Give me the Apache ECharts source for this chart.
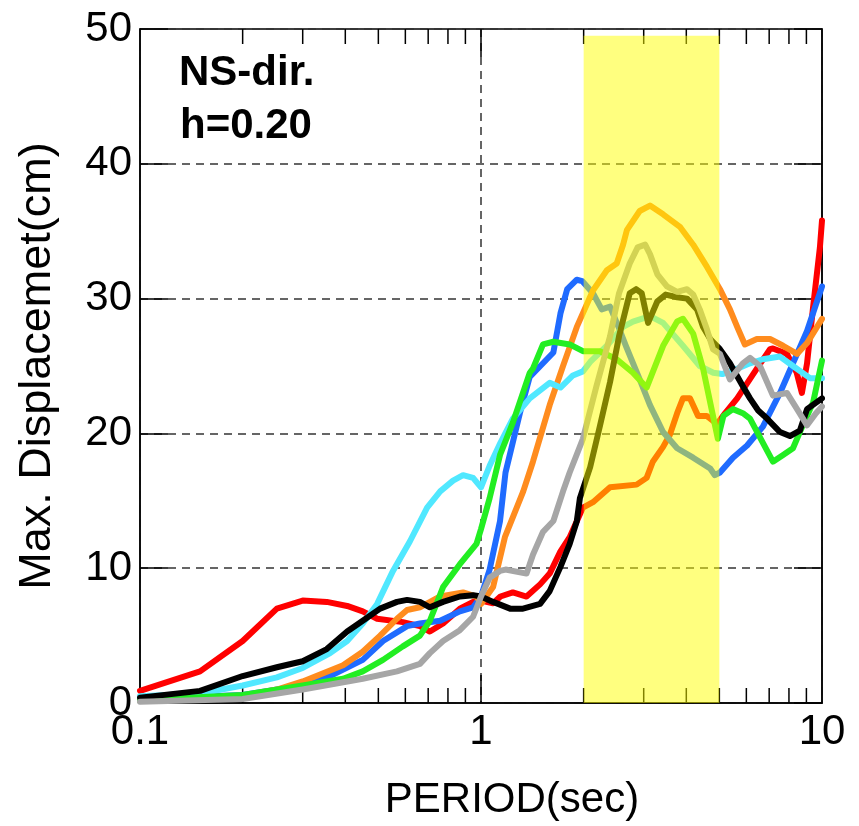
<!DOCTYPE html>
<html>
<head>
<meta charset="utf-8">
<script src="https://cdn.jsdelivr.net/npm/echarts@6/dist/echarts.min.js"></script>
<style>html,body{margin:0;padding:0;background:#fff;}#c{width:859px;height:826px;}</style>
</head>
<body>
<div id="c"></div>
<script>
// ---- data (period in sec, max displacement in cm) ----
const redT = [0.1,0.15,0.2,0.252,0.3,0.353,0.405,0.45,0.496,0.59,0.662,0.708,0.774,0.867,0.948,1.0,1.085,1.14,1.24,1.36,1.49,1.59,1.71,1.82,1.99,2.13,2.39,2.86,3.06,3.19,3.42,3.58,3.76,3.91,4.10,4.33,4.59,4.92,5.2,5.64,6.44,7.04,7.18,7.89,8.43,8.73,9.04,9.42,9.86,10];
const redV = [0.9,2.35,4.6,7.0,7.6,7.5,7.2,6.8,6.25,6.0,5.7,5.3,5.9,7.0,7.5,7.6,7.4,7.9,8.2,7.9,8.8,9.6,11.25,12.3,14.5,14.9,16.0,16.2,16.7,17.9,19.0,19.9,21.5,22.6,22.6,21.3,21.3,20.7,21.5,22.6,24.8,26.25,26.3,25.9,24.5,23.0,25.2,29.4,33.8,35.8];

const blueT = [0.1,0.2,0.3,0.361,0.45,0.516,0.607,0.662,0.759,0.867,0.948,1.0,1.06,1.137,1.18,1.30,1.39,1.56,1.63,1.71,1.79,1.91,1.98,2.13,2.26,2.39,2.53,2.66,2.75,2.92,3.13,3.42,3.76,4.19,4.70,4.85,5.02,5.48,6.03,6.71,7.53,8.22,9.04,10];
const blueV = [0.3,0.6,1.3,2.0,3.2,4.6,5.7,5.9,6.1,6.8,7.1,7.9,9.9,13.5,17.1,21.5,24.2,25.5,26.0,28.9,30.7,31.4,31.3,30.4,29.2,29.4,27.9,26.5,25.6,24.0,22.1,20.1,18.9,18.2,17.4,16.9,17.1,18.2,19.1,20.5,23.0,25.2,27.6,30.9];

const orangeT = [0.1,0.2,0.252,0.3,0.394,0.45,0.506,0.567,0.607,0.662,0.759,0.886,0.97,1.0,1.085,1.175,1.33,1.42,1.59,1.74,1.91,2.13,2.34,2.5,2.61,2.68,2.92,3.13,3.42,3.84,4.19,4.60,5.02,5.37,5.64,5.94,6.44,7.04,7.69,8.45,9.04,10];
const orangeV = [0.2,0.5,1.0,1.6,2.8,3.8,5.0,6.25,6.9,7.1,7.9,8.2,7.9,7.35,8.6,12.3,15.7,17.9,22.1,25.0,27.9,30.6,32.1,32.6,34.0,35.1,36.5,36.9,36.25,35.3,34.0,32.35,30.7,29.2,27.9,26.6,27.0,27.0,26.5,25.9,26.7,28.5];

const cyanT = [0.1,0.15,0.2,0.252,0.3,0.361,0.405,0.45,0.496,0.552,0.619,0.695,0.759,0.828,0.886,0.948,1.0,1.06,1.14,1.24,1.39,1.59,1.71,1.86,1.99,2.09,2.34,2.61,2.79,3.13,3.42,3.91,4.38,4.8,5.1,5.64,6.15,6.71,7.53,8.22,9.22,10];
const cyanV = [0.5,0.7,1.3,1.9,2.6,3.7,4.6,5.9,7.35,9.8,12.0,14.5,15.7,16.5,16.9,16.7,16.0,17.6,19.3,21.1,22.6,23.75,23.4,24.3,24.6,25.3,26.5,27.9,28.3,28.7,28.2,26.5,25.0,24.5,24.4,24.8,25.2,25.5,25.7,25.0,24.1,24.1];

const greenT = [0.1,0.2,0.3,0.394,0.45,0.516,0.59,0.662,0.708,0.774,0.867,0.97,1.0,1.06,1.137,1.24,1.39,1.42,1.52,1.63,1.82,1.99,2.23,2.5,2.79,3.06,3.42,3.76,3.91,4.19,4.48,4.79,4.95,5.14,5.48,5.86,6.15,6.71,7.18,7.69,8.22,8.61,9.42,10];
const greenV = [0.2,0.6,1.3,1.8,2.35,3.2,4.2,5.0,6.1,8.6,10.3,11.8,12.9,15.2,18.4,20.8,24.5,24.8,26.6,26.8,26.6,26.1,26.1,25.5,24.5,23.4,26.5,28.3,28.5,27.4,24.8,21.3,19.6,21.3,21.8,21.5,21.1,19.3,17.9,18.4,18.9,20.1,22.3,25.4];

const blackT = [0.1,0.15,0.2,0.252,0.3,0.353,0.405,0.45,0.506,0.567,0.607,0.662,0.708,0.774,0.867,0.948,1.0,1.085,1.217,1.328,1.49,1.59,1.71,1.82,1.91,1.95,2.09,2.23,2.39,2.54,2.73,2.85,2.96,3.09,3.29,3.48,3.76,4.02,4.30,4.48,4.70,5.02,5.37,5.86,6.15,6.5,6.9,7.53,8.05,8.61,9.04,10];
const blackV = [0.4,0.9,2.0,2.65,3.1,4.0,5.3,6.1,7.0,7.5,7.65,7.5,7.1,7.5,7.9,8.0,7.9,7.5,7.0,7.0,7.35,8.3,10.1,11.8,13.5,15.2,17.5,20.5,23.8,27.2,30.4,30.7,30.4,28.2,29.8,30.3,30.1,30.0,29.2,27.9,27.0,26.25,25.2,23.5,22.6,21.7,21.1,20.1,19.8,20.2,21.8,22.6];

const grayT = [0.1,0.2,0.3,0.45,0.567,0.662,0.708,0.774,0.867,0.948,1.0,1.06,1.137,1.18,1.36,1.42,1.52,1.63,1.74,1.82,1.99,2.18,2.39,2.54,2.73,2.88,3.03,3.13,3.29,3.51,3.76,4.02,4.19,4.38,4.60,4.79,5.02,5.37,5.86,6.15,6.58,7.18,7.89,8.45,9.04,9.6,10];
const grayV = [0.1,0.3,1.0,1.8,2.35,2.9,3.7,4.6,5.4,6.4,7.9,9.3,9.8,9.9,9.6,11.0,12.7,13.5,15.7,17.1,19.6,23.5,27.2,30.4,32.6,33.8,34.0,33.3,31.8,30.9,30.5,30.7,30.3,29.2,27.7,26.25,25.9,24.0,25.2,25.6,25.0,22.8,23.0,21.8,20.6,21.5,22.0];

const seriesNames = ['red','blue','orange','cyan','green','black','gray'];
const seriesColors = ['#ff0000','#1f6bff','#ff8c1e','#50e8ff','#22ee22','#000000','#a6a6a6'];
const seriesT = [redT, blueT, orangeT, cyanT, greenT, blackT, grayT];
const seriesV = [redV, blueV, orangeV, cyanV, greenV, blackV, grayV];

const bandPeriod = [2, 5];       // highlighted period range (sec)
const bandTop = 49.5;             // top of highlighted band (cm)
const xTicks = [0.2,0.3,0.4,0.5,0.6,0.7,0.8,0.9,1,2,3,4,5,6,7,8,9];
const yMin = 0, yMax = 50, yStep = 10;
const xMin = 0.1, xMax = 10;
const annot = ['NS-dir.', 'h=0.20'];

const FONT = '"Liberation Sans", Arial, sans-serif';

const chart = echarts.init(document.getElementById('c'), null, {renderer: 'canvas'});

const lineSeries = seriesNames.map((n, i) => ({
  name: n,
  type: 'line',
  data: seriesT[i].map((t, k) => [t, seriesV[i][k]]),
  showSymbol: false,
  symbol: 'none',
  smooth: false,
  z: 3,
  lineStyle: {color: seriesColors[i], width: 6, join: 'round', cap: 'round'},
  itemStyle: {color: seriesColors[i]},
  animation: false
}));

const tickSeries = {
  type: 'custom',
  silent: true,
  z: 2,
  clip: false,
  data: xTicks.map(v => [v]),
  encode: {x: 0},
  renderItem: function (params, api) {
    const v = api.value(0);
    const b = api.coord([v, yMin]);
    const t = api.coord([v, yMax]);
    const major = Math.abs(Math.log10(v) - Math.round(Math.log10(v))) < 1e-9;
    const len = major ? 28 : 15;
    const st = {stroke: '#000', lineWidth: 1.5};
    return {
      type: 'group',
      children: [
        {type: 'line', shape: {x1: b[0], y1: b[1], x2: b[0], y2: b[1] - len}, style: st},
        {type: 'line', shape: {x1: t[0], y1: t[1], x2: t[0], y2: t[1] + len}, style: st}
      ]
    };
  },
  animation: false
};

const bandSeries = {
  type: 'line',
  data: [],
  z: 20,
  silent: true,
  animation: false,
  markArea: {
    z: 20,
    silent: true,
    animation: false,
    itemStyle: {color: 'rgba(255,255,0,0.5)'},
    data: [[{xAxis: bandPeriod[0], yAxis: yMin}, {xAxis: bandPeriod[1], yAxis: bandTop}]]
  }
};

const splitStyle = {show: true, lineStyle: {color: '#333', width: 1.5, type: [8, 6]}};

const option = {
  backgroundColor: '#fff',
  animation: false,
  grid: {left: 140, right: 37, top: 29, bottom: 116, show: true, borderColor: '#000', borderWidth: 1.5, backgroundColor: 'transparent'},
  xAxis: {
    type: 'log', logBase: 10, min: xMin, max: xMax,
    axisLine: {show: true, lineStyle: {color: '#000', width: 1.5}},
    axisTick: {show: false},
    splitLine: splitStyle,
    axisLabel: {color: '#000', fontFamily: FONT, fontSize: 42, margin: 8,
      formatter: v => String(v)},
    name: 'PERIOD(sec)', nameLocation: 'middle', nameGap: 76,
    nameTextStyle: {color: '#000', fontFamily: FONT, fontSize: 42, padding: [0, 0, 0, 62]}
  },
  yAxis: [{
    type: 'value', min: yMin, max: yMax, interval: yStep,
    axisLine: {show: true, lineStyle: {color: '#000', width: 1.5}},
    axisTick: {show: true, inside: true, length: 28, lineStyle: {color: '#000', width: 1.5}},
    splitLine: splitStyle,
    axisLabel: {color: '#000', fontFamily: FONT, fontSize: 42, margin: 8},
    name: 'Max. Displacemet(cm)', nameLocation: 'middle', nameGap: 80,
    nameTextStyle: {color: '#000', fontFamily: FONT, fontSize: 45}
  }, {
    type: 'value', min: yMin, max: yMax, interval: yStep, position: 'right',
    axisLine: {show: true, lineStyle: {color: '#000', width: 1.5}},
    axisTick: {show: true, inside: true, length: 28, lineStyle: {color: '#000', width: 1.5}},
    splitLine: {show: false},
    axisLabel: {show: false}
  }],
  graphic: [
    {type: 'text', left: 179, top: 52, silent: true, style: {text: annot[0], font: 'bold 42px ' + FONT, fill: '#000'}},
    {type: 'text', left: 180, top: 105, silent: true, style: {text: annot[1], font: 'bold 42px ' + FONT, fill: '#000'}}
  ],
  series: [tickSeries].concat(lineSeries).concat([bandSeries])
};
chart.setOption(option);
</script>
</body>
</html>
